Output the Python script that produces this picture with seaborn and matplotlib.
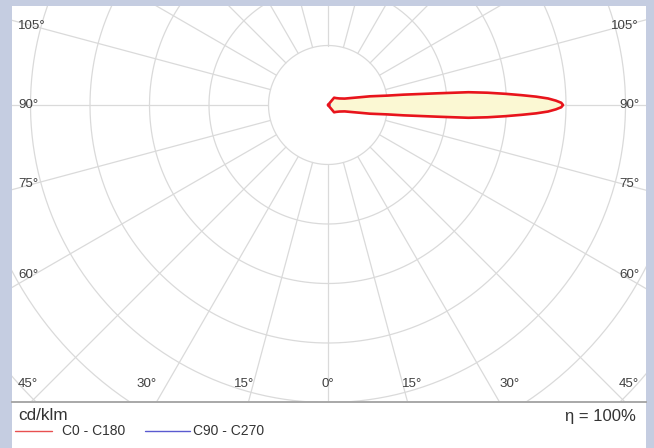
import numpy as np
import pandas as pd
import seaborn as sns
import matplotlib.pyplot as plt
from matplotlib.patches import Rectangle

sns.set_theme(style="white")
plt.rcParams['font.family'] = ['Liberation Sans', 'DejaVu Sans']

# Light distribution data (gamma angle in degrees, intensity in cd/klm)
gamma = [0, 10, 20, 30, 40, 50, 60, 69, 73, 76.3, 78.3, 81, 82.2, 83.9, 84.8, 85.6, 86.4, 87.1, 87.7,
         88.3, 88.9, 89.45, 90,
         90.55, 91.1, 91.7, 92.3, 92.9, 93.6, 94.4, 95.2, 96.1, 97.8, 99, 101.7, 103.7, 107, 111,
         120, 130, 140, 150, 160, 170, 180]
c0_c180 = [0, 0, 0, 0, 16, 18, 22, 30, 40, 55, 72, 101, 128, 185, 237, 269, 299, 326, 350,
           370, 383, 392, 395,
           392, 383, 370, 350, 326, 299, 269, 237, 185, 128, 101, 72, 55, 40, 30,
           22, 18, 16, 0, 0, 0, 0]
c90_gamma = [0, 30, 60, 90, 120, 150, 180]
c90_c270 = [0, 1, 2, 3, 2, 1, 0]

grid_radii = [1, 2, 3, 4, 5, 6, 7, 8]          # x 100 cd/klm
grid_angles = list(range(0, 360, 15))
left_labels = [105, 90, 75, 60, 45]
bottom_labels = [-30, -15, 0, 15, 30]
right_labels = [105, 90, 75, 60, 45]

scale = 100.0  # cd/klm per grid ring


def to_xy(g, val, side=1):
    g = np.radians(np.asarray(g, dtype=float))
    r = np.asarray(val, dtype=float) / scale
    return side * r * np.sin(g), -r * np.cos(g)


fig = plt.figure(figsize=(6.54, 4.48), dpi=100)
fig.patch.set_facecolor('#c5cde1')
# white panel
fig.add_artist(Rectangle((12 / 654, 0), 634 / 654, 442 / 448, transform=fig.transFigure,
                         facecolor='white', edgecolor='none', zorder=0))

ax = fig.add_axes([12 / 654, 46 / 448, 634 / 654, 396 / 448])
ax.set_facecolor('white')
ppu = 59.5
x0, x1 = -316 / ppu, 318 / ppu
y0, y1 = -297 / ppu, 99 / ppu
ax.set_xlim(x0, x1)
ax.set_ylim(y0, y1)

# Polar grid
t = np.linspace(0, 2 * np.pi, 400)
for r in grid_radii:
    ax.plot(r * np.cos(t), r * np.sin(t), color='#dadada', lw=0.9, zorder=1)
for a in grid_angles:
    ar = np.radians(a)
    ax.plot([np.sin(ar) * grid_radii[0], np.sin(ar) * 10], [-np.cos(ar) * grid_radii[0], -np.cos(ar) * 10],
            color='#dadada', lw=0.9, zorder=1)

# Curves
bx, by = to_xy(c90_gamma, c90_c270)
df_c90 = pd.DataFrame({'x': bx, 'y': by})
sns.lineplot(data=df_c90, x='x', y='y', sort=False, estimator=None, color='#3030d0', lw=1.5, ax=ax, zorder=3)

rx, ry = to_xy(gamma, c0_c180)
df_c0 = pd.DataFrame({'x': rx, 'y': ry})
ax.fill(rx, ry, color='#fbf8d3', zorder=2)
sns.lineplot(data=df_c0, x='x', y='y', sort=False, estimator=None, color='#e8141c', lw=1.9, ax=ax, zorder=4)

# Angle labels
lab_kw = dict(fontsize=9.6, color='#404040', va='center')
side_dx = 294 / ppu
row_y = -279 / ppu
row_dy = 315 / ppu
for a in left_labels:
    y = max(-side_dx / np.tan(np.radians(a)), row_y)
    ax.text(x0 + 6 / ppu, y, f'{a}°', ha='left', **lab_kw)
for a in right_labels:
    y = max(-side_dx / np.tan(np.radians(a)), row_y)
    ax.text(x1 - 7 / ppu, y, f'{a}°', ha='right', **lab_kw)
for a in bottom_labels:
    ax.text(row_dy * np.tan(np.radians(a)), row_y, f'{abs(a)}°', ha='center', **lab_kw)

ax.set_xticks([])
ax.set_yticks([])
ax.set_xlabel('')
ax.set_ylabel('')
for s in ['top', 'left', 'right']:
    ax.spines[s].set_visible(False)
ax.spines['bottom'].set_color('#a8a8a8')
ax.spines['bottom'].set_linewidth(1.4)

# Footer legend
fig.text(18 / 654, 1 - 415 / 448, 'cd/klm', fontsize=12.3, color='#333333', va='center', ha='left')
fig.text(636 / 654, 1 - 416 / 448, 'η = 100%', fontsize=12, color='#333333', va='center', ha='right')
fig.add_artist(plt.Line2D([15 / 654, 52 / 654], [1 - 430.5 / 448] * 2, transform=fig.transFigure,
                          color='#e85050', lw=1.0, zorder=5))
fig.text(62 / 654, 1 - 431 / 448, 'C0 - C180', fontsize=10, color='#333333', va='center', ha='left')
fig.add_artist(plt.Line2D([145 / 654, 190 / 654], [1 - 430.5 / 448] * 2, transform=fig.transFigure,
                          color='#5a5ad0', lw=1.0, zorder=5))
fig.text(193 / 654, 1 - 431 / 448, 'C90 - C270', fontsize=10, color='#333333', va='center', ha='left')

plt.savefig('out.png', dpi=100, facecolor=fig.get_facecolor())
